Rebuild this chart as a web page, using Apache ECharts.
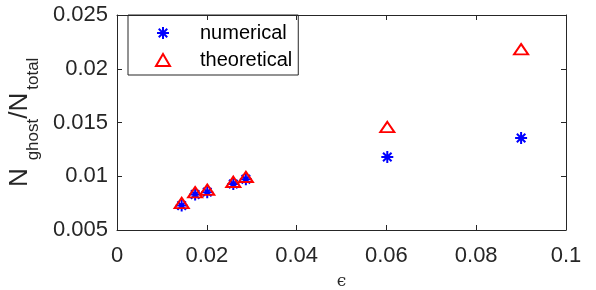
<!DOCTYPE html>
<html>
<head>
<meta charset="utf-8">
<script src="https://cdn.jsdelivr.net/npm/echarts@6/dist/echarts.min.js"></script>
<style>html,body{margin:0;padding:0;background:#fff}#c{width:596px;height:290px}</style>
</head>
<body>
<div id="c"></div>
<script>
// data
const epsilon = [0.0144, 0.0174, 0.0201, 0.0259, 0.0287, 0.0602, 0.0900];
const numerical = [0.00727, 0.00830, 0.00852, 0.00928, 0.00972, 0.01179, 0.01356];
const theoretical = [0.00752, 0.00852, 0.00875, 0.00948, 0.00994, 0.01458, 0.02182];
const xTicks = [0, 0.02, 0.04, 0.06, 0.08, 0.1];
const yTicks = [0.005, 0.01, 0.015, 0.02, 0.025];
const seriesNames = ['numerical', 'theoretical'];

const AX = '#262626';
const FONT = 'Liberation Sans';
const STAR = 'path://M5 0L5 10M0 5L10 5M1.46 1.46L8.54 8.54M1.46 8.54L8.54 1.46';
const TRI = 'path://M7 0L14 12L0 12Z';

const chart = echarts.init(document.getElementById('c'), null, {renderer: 'canvas'});
const pairs = (ys) => epsilon.map((x, i) => [x, ys[i]]);
const fmt = (v) => String(+(+v).toFixed(4));

const baseX = {
  type: 'value', min: xTicks[0], max: xTicks[xTicks.length - 1], interval: 0.02,
  splitLine: {show: false},
  axisLine: {show: true, onZero: false, lineStyle: {color: AX, width: 1}},
  axisTick: {show: true, inside: true, length: 5, lineStyle: {color: AX}}
};
const baseY = {
  type: 'value', min: yTicks[0], max: yTicks[yTicks.length - 1], interval: 0.005,
  splitLine: {show: false},
  axisLine: {show: true, onZero: false, lineStyle: {color: AX, width: 1}},
  axisTick: {show: true, inside: true, length: 5, lineStyle: {color: AX}}
};

chart.setOption({
  animation: false,
  backgroundColor: '#fff',
  grid: {left: 117, top: 15, right: 30, bottom: 60, containLabel: false, outerBoundsMode: 'none'},
  legend: {
    show: true,
    data: seriesNames,
    orient: 'vertical',
    left: 128, top: 15,
    padding: [8, 6, 5, 27],
    itemGap: 7,
    itemWidth: 64, itemHeight: 12,
    symbolKeepAspect: true,
    borderColor: AX, borderWidth: 1,
    selectedMode: false,
    textStyle: {fontFamily: FONT, fontSize: 20, color: '#000', lineHeight: 20}
  },
  xAxis: [
    Object.assign({}, baseX, {
      position: 'bottom',
      name: '\u03F5', nameLocation: 'middle', nameGap: 43,
      nameTextStyle: {fontFamily: 'DejaVu Serif', fontSize: 17, color: AX},
      axisLabel: {show: true, margin: 15, color: AX, fontFamily: FONT, fontSize: 22, formatter: fmt}
    }),
    Object.assign({}, baseX, {position: 'top', axisLabel: {show: false}})
  ],
  yAxis: [
    Object.assign({}, baseY, {
      position: 'left',
      name: '{s| }{m|N}{g|ghost}{m|/N}{t|total}', nameLocation: 'middle', nameGap: 75, nameRotate: 90,
      nameTextStyle: {
        fontFamily: FONT, fontSize: 26, color: AX,
        rich: {
          s: {fontFamily: FONT, fontSize: 1, lineHeight: 35, verticalAlign: 'top'},
          m: {fontFamily: FONT, fontSize: 26, color: AX, lineHeight: 26, verticalAlign: 'top'},
          g: {fontFamily: FONT, fontSize: 17, color: AX, lineHeight: 17, verticalAlign: 'bottom', padding: [0, 0, 0, 8]},
          t: {fontFamily: FONT, fontSize: 17, color: AX, lineHeight: 17, verticalAlign: 'bottom', padding: [0, 0, 0, 3]}
        }
      },
      axisLabel: {show: true, margin: 9, color: AX, fontFamily: FONT, fontSize: 22, formatter: fmt}
    }),
    Object.assign({}, baseY, {position: 'right', axisLabel: {show: false}})
  ],
  series: [
    {
      name: seriesNames[0], type: 'scatter', xAxisIndex: 0, yAxisIndex: 0,
      data: pairs(numerical),
      symbol: STAR, symbolSize: 12, symbolKeepAspect: true,
      itemStyle: {color: '#0000ff', borderColor: '#0000ff', borderWidth: 2, opacity: 1},
      emphasis: {disabled: true}, z: 2
    },
    {
      name: seriesNames[1], type: 'scatter', xAxisIndex: 0, yAxisIndex: 0,
      data: pairs(theoretical),
      symbol: TRI, symbolSize: [14, 12], symbolKeepAspect: true,
      itemStyle: {color: 'rgba(255,255,255,0)', borderColor: '#ff0000', borderWidth: 2, opacity: 1},
      emphasis: {disabled: true}, z: 3
    }
  ]
});
</script>
</body>
</html>
